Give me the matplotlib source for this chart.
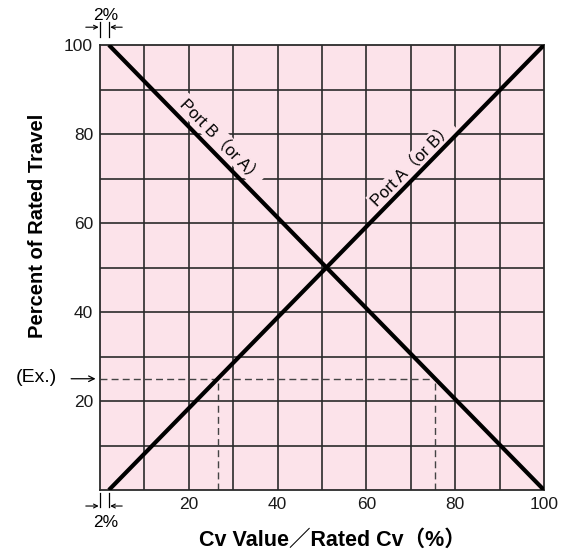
import numpy as np
from matplotlib import pyplot as plt

FONT = ['Liberation Sans', 'Noto Sans CJK JP', 'DejaVu Sans']
plt.rcParams['font.family'] = FONT

# line end points (Cv %, travel %)
port_a_x = [2, 100]
port_a_y = [0, 100]
port_b_x = [2, 100]
port_b_y = [100, 0]

# example reading
ex_travel = 25
ex_cv_a = 26.5
ex_cv_b = 75.5

ticks = [20, 40, 60, 80, 100]
grid_step = 10

pink = '#fce3ea'
dark = '#2b2b2b'

fig = plt.figure(figsize=(5.70, 5.54), dpi=100)
ax = fig.add_axes([100 / 570, (554 - 490) / 554, 444 / 570, 445 / 554])
ax.set_facecolor(pink)
ax.set_xlim(0, 100)
ax.set_ylim(0, 100)

# grid
for g in np.arange(grid_step, 100, grid_step):
    ax.axvline(g, color=dark, lw=1.2, zorder=1)
    ax.axhline(g, color=dark, lw=1.2, zorder=1)
for s in ax.spines.values():
    s.set_color(dark)
    s.set_linewidth(1.3)

ax.set_xticks(ticks)
ax.set_yticks(ticks)
ax.tick_params(length=0, labelsize=12.5, pad=5, colors='#1a1a1a')

# port lines
ax.plot(port_a_x, port_a_y, color='black', lw=3, zorder=5, solid_capstyle='butt')
ax.plot(port_b_x, port_b_y, color='black', lw=3, zorder=5, solid_capstyle='butt')

# example dashed lines
ax.plot([0, ex_cv_b], [ex_travel, ex_travel], color='#444444', lw=1, ls=(0, (5, 3)), zorder=2)
ax.plot([ex_cv_a, ex_cv_a], [0, ex_travel], color='#444444', lw=1, ls=(0, (5, 3)), zorder=2)
ax.plot([ex_cv_b, ex_cv_b], [0, ex_travel], color='#444444', lw=1, ls=(0, (5, 3)), zorder=2)

# port labels
box = dict(facecolor=pink, edgecolor='none', pad=1.5)
ax.text(27.3, 78.6, 'Port B（or A）', rotation=-45.6, ha='center', va='center',
        fontsize=12, bbox=box, zorder=3, rotation_mode='anchor')
ax.text(70.3, 73.2, 'Port A（or B）', rotation=45.6, ha='center', va='center',
        fontsize=12, bbox=box, zorder=3, rotation_mode='anchor')

# axis titles
fig.text(38 / 570, 1 - 226 / 554, 'Percent of Rated Travel', rotation=90,
         ha='center', va='center', fontsize=14.5, fontweight='bold')
fig.text(332 / 570, 1 - 540 / 554, 'Cv Value／Rated Cv（%）',
         ha='center', va='center', fontsize=15.5, fontweight='bold')

# (Ex.) marker
fig.text(36 / 570, 1 - 377 / 554, '(Ex.)', ha='center', va='center', fontsize=14)
ax.annotate('', xy=(-1, ex_travel), xytext=(-6.5, ex_travel),
            arrowprops=dict(arrowstyle='->', lw=0.9, color='black', shrinkA=0, shrinkB=0),
            annotation_clip=False)

# 2% marks top and bottom
for y0, y1, ya, yt in [(101.8, 105.2, 104.0, 106.6), (-0.7, -3.8, -3.6, -7.4)]:
    for xv in [0, 2]:
        ax.plot([xv, xv], [y0, y1], color='black', lw=0.9, clip_on=False)
    ax.annotate('', xy=(-0.3, ya), xytext=(-3.2, ya),
                arrowprops=dict(arrowstyle='->', lw=0.8, color='black', shrinkA=0, shrinkB=0,
                                mutation_scale=7), annotation_clip=False)
    ax.annotate('', xy=(2.3, ya), xytext=(5.0, ya),
                arrowprops=dict(arrowstyle='->', lw=0.8, color='black', shrinkA=0, shrinkB=0,
                                mutation_scale=7), annotation_clip=False)
    ax.text(1.2, yt, '2%', ha='center', va='center', fontsize=12.5)

fig.savefig('out.png', dpi=100, facecolor='white')
